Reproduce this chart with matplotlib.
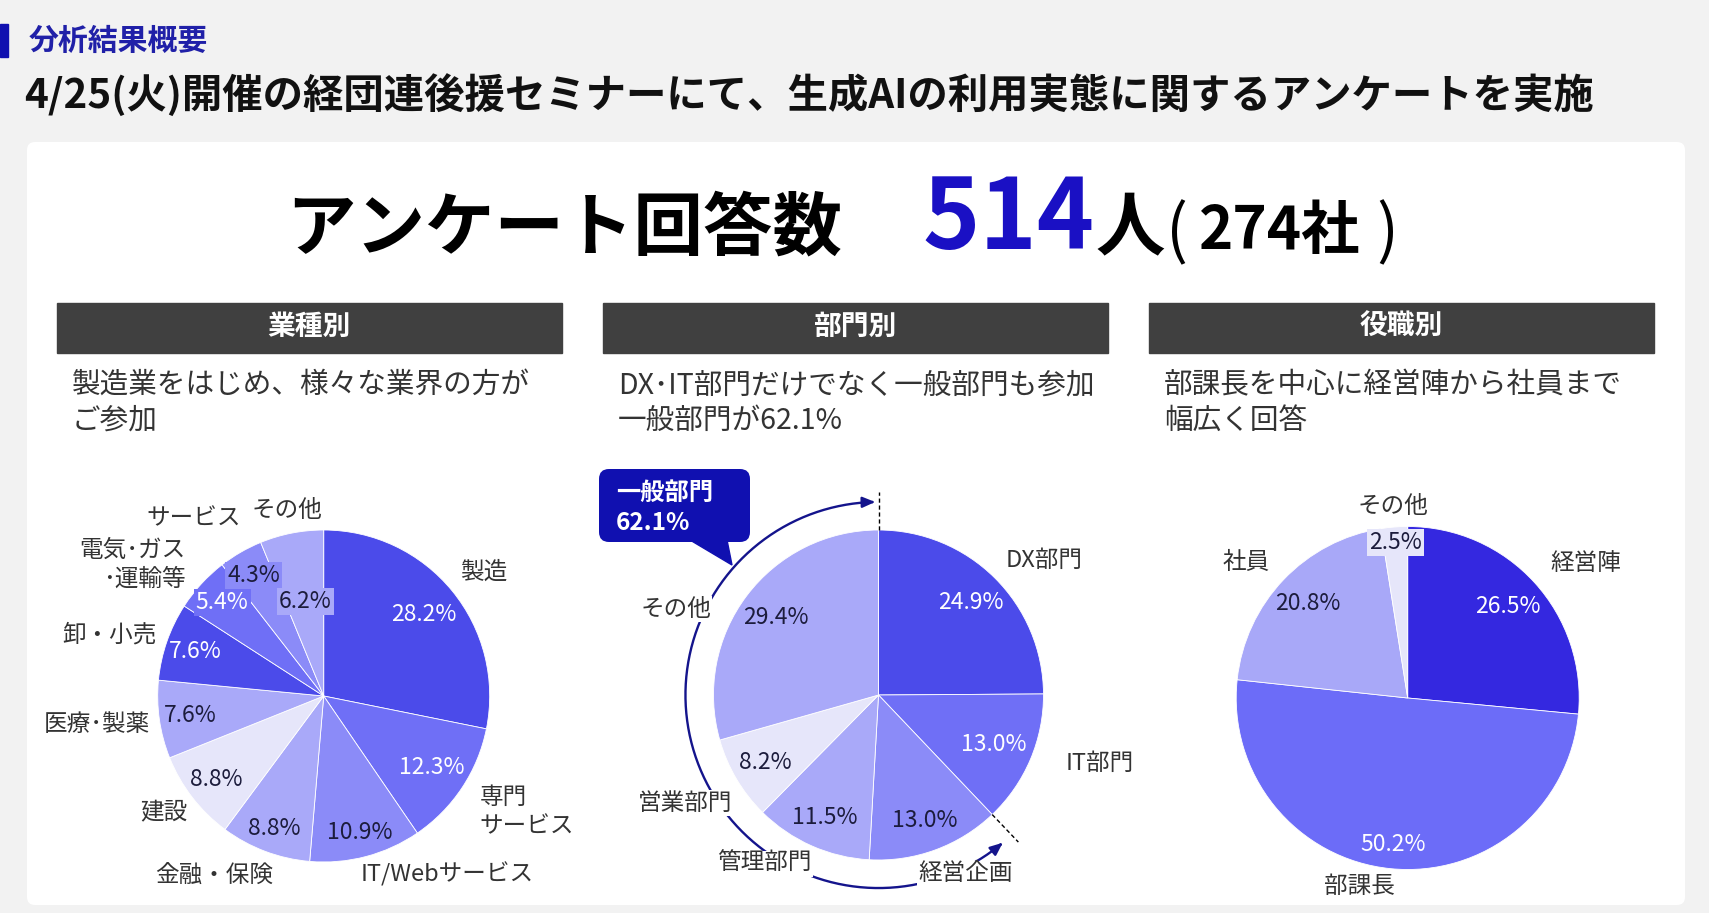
import numpy as np
import matplotlib.pyplot as plt
from matplotlib.patches import FancyBboxPatch, Rectangle, Polygon, FancyArrowPatch
from matplotlib.path import Path

plt.rcParams['font.family'] = ['Noto Sans CJK JP', 'DejaVu Sans']

W, H = 1709, 913

# ---- data ----
industry_labels = ['製造', '専門\nサービス', 'IT/Webサービス', '金融・保険', '建設',
                   '医療･製薬', '卸・小売', '電気･ガス\n･運輸等', 'サービス', 'その他']
industry_values = [28.2, 12.3, 10.9, 8.8, 8.8, 7.6, 7.6, 5.4, 4.3, 6.2]

dept_labels = ['DX部門', 'IT部門', '経営企画', '管理部門', '営業部門', 'その他']
dept_values = [24.9, 13.0, 13.0, 11.5, 8.2, 29.4]

role_labels = ['経営陣', '部課長', '社員', 'その他']
role_values = [26.5, 50.2, 20.8, 2.5]

total_people = 514
total_companies = 274
general_dept_share = 62.1

# ---- colours ----
C1, C2, C3, C4, C5, CD = '#4b4bea', '#6f6ff6', '#8b8bf8', '#a9a9f9', '#e6e6fa', '#3428e0'
NAVY = '#14148c'
DARK_TXT = '#1c1c3c'
LAB_TXT = '#333333'

fig = plt.figure(figsize=(W / 100, H / 100), dpi=100)
fig.patch.set_facecolor('#f2f2f2')

bg = fig.add_axes([0, 0, 1, 1])
bg.set_xlim(0, W)
bg.set_ylim(H, 0)
bg.axis('off')

# heading
bg.add_patch(Rectangle((0, 24), 8, 33, color='#1010b0'))
bg.text(29, 41, '分析結果概要', fontsize=21.5, fontweight='bold', color='#2020a8', va='center', ha='left')
bg.text(24, 96, '4/25(火)開催の経団連後援セミナーにて、生成AIの利用実態に関するアンケートを実施',
        fontsize=29.1, fontweight='bold', color='#111111', va='center', ha='left')

# white card
bg.add_patch(FancyBboxPatch((27, 142), 1658, 763, boxstyle='round,pad=0,rounding_size=8',
                            facecolor='white', edgecolor='none'))

# big headline
bg.text(286, 249, 'アンケート回答数', fontsize=50, fontweight='bold', color='black', va='baseline')
bg.text(922, 249, str(total_people), fontsize=70, fontweight='bold', color='#1a10c4', va='baseline')
bg.text(1095, 249, '人', fontsize=50, fontweight='bold', color='black', va='baseline')
bg.text(1166, 252, '(', fontsize=47, color='black', va='baseline')
bg.text(1199, 249, f'{total_companies}社', fontsize=42, fontweight='bold', color='black', va='baseline')
bg.text(1376, 252, ')', fontsize=47, color='black', va='baseline')

# section headers
headers = ['業種別', '部門別', '役職別']
subtitles = ['製造業をはじめ、様々な業界の方が\nご参加',
             f'DX･IT部門だけでなく一般部門も参加\n一般部門が{general_dept_share}%',
             '部課長を中心に経営陣から社員まで\n幅広く回答']
box_x = [57, 603, 1149]
for bx, h, s in zip(box_x, headers, subtitles):
    bg.add_patch(Rectangle((bx, 303), 505, 50, color='#404040'))
    bg.text(bx + 252, 327, h, fontsize=20, fontweight='bold', color='white', ha='center', va='center')
    bg.text(bx + 15, 403, s, fontsize=20.6, color=LAB_TXT, ha='left', va='center', linespacing=1.25)


def pie_axes(cx, cy, r, L=1.6):
    ax = fig.add_axes([(cx - L * r) / W, (H - cy - L * r) / H, 2 * L * r / W, 2 * L * r / H])
    ax.set_xlim(-L, L)
    ax.set_ylim(-L, L)
    ax.axis('off')
    return ax


def draw_pie(ax, values, labels, colors, pct_colors, pct_dist, lab_pos, lab_ha, pct_bg=()):
    wedges, _ = ax.pie(values, colors=colors, startangle=90, counterclock=False,
                       wedgeprops=dict(edgecolor='white', linewidth=0.6))
    ax.set_xlim(-1.6, 1.6)
    ax.set_ylim(-1.6, 1.6)
    for i, w in enumerate(wedges):
        mid = np.radians((w.theta1 + w.theta2) / 2)
        d = pct_dist[i]
        bbox = None
        if i in pct_bg:
            bbox = dict(facecolor=colors[i], edgecolor='none', pad=1.5)
        ax.text(d * np.cos(mid), d * np.sin(mid), f'{values[i]:.1f}%', fontsize=16.5,
                color=pct_colors[i], ha='center', va='center', bbox=bbox, zorder=5)
        ld, shift = lab_pos[i]
        a = mid + np.radians(shift)
        ha = lab_ha[i] or ('left' if np.cos(a) > 0 else 'right')
        ax.text(ld * np.cos(a), ld * np.sin(a), labels[i], fontsize=17, color=LAB_TXT,
                ha=ha, va='center', linespacing=1.35, zorder=6,
                bbox=dict(facecolor='white', edgecolor='none', pad=1))
    return wedges


W_ = 'white'
K_ = DARK_TXT

# pie 1: industry
ax1 = pie_axes(323.7, 696, 166)
draw_pie(ax1, industry_values, industry_labels,
         [C1, C2, C3, C4, C5, C4, C1, C2, C3, C4],
         [W_, W_, K_, K_, K_, K_, W_, W_, K_, K_],
         [0.78, 0.78, 0.85, 0.85, 0.82, 0.81, 0.82, 0.83, 0.84, 0.58],
         [(1.11, 3), (1.17, -3), (1.10, -3), (1.12, 5), (1.08, 3),
          (1.06, 1), (1.07, -1), (1.15, -1), (1.18, -5), (1.14, 0)],
         [None] * 9 + ['center'], pct_bg=(7, 8, 9))

# pie 2: department
ax2 = pie_axes(878.5, 695, 165)
w2 = draw_pie(ax2, dept_values, dept_labels,
              [C1, C2, C3, C4, C5, C4],
              [W_, W_, K_, K_, K_, K_],
              [0.79, 0.76, 0.81, 0.81, 0.80, 0.78],
              [(1.12, 1.5), (1.21, 3), (1.11, -7.7), (1.10, 2.4), (1.10, 6), (1.14, 10)],
              [None] * 6)

# bracket arc for the general departments
top_ang = w2[0].theta2
end_ang = w2[1].theta1
th = np.radians(np.linspace(top_ang + 1, 360 + end_ang - 3.5, 300))
R = 1.17
arc = FancyArrowPatch(path=Path(np.column_stack([R * np.cos(th), R * np.sin(th)])),
                      arrowstyle='<|-|>,head_length=0.75,head_width=0.32', mutation_scale=10,
                      color=NAVY, lw=1.7, shrinkA=0, shrinkB=0, zorder=3)
ax2.add_patch(arc)
for ang in (top_ang, end_ang):
    a = np.radians(ang)
    ax2.plot([1.0 * np.cos(a), 1.23 * np.cos(a)], [1.0 * np.sin(a), 1.23 * np.sin(a)],
             color='black', lw=1, ls=(0, (3, 2)), zorder=2)

# callout box
bg.add_patch(Polygon([[690, 540], [727, 540], [732, 565]], closed=True, color='#1010b0', zorder=4))
bg.add_patch(FancyBboxPatch((599, 469), 151, 73, boxstyle='round,pad=0,rounding_size=10',
                            facecolor='#1010b0', edgecolor='none', zorder=4))
bg.text(616, 493, '一般部門', fontsize=17.5, fontweight='bold', color='white', va='center', zorder=5)
bg.text(616, 523, f'{general_dept_share}%', fontsize=17.5, fontweight='bold', color='white', va='center', zorder=5)

# pie 3: role
ax3 = pie_axes(1407.7, 698, 171.5)
draw_pie(ax3, role_values, role_labels,
         [CD, '#6c6cf8', '#a8a8f8', C5],
         [W_, W_, K_, K_],
         [0.79, 0.86, 0.80, 0.91],
         [(1.14, 1), (1.10, 2), (1.13, -1), (1.12, 0)],
         [None, None, None, 'center'], pct_bg=(3,))

fig.savefig('out.png', dpi=100, facecolor=fig.get_facecolor())
